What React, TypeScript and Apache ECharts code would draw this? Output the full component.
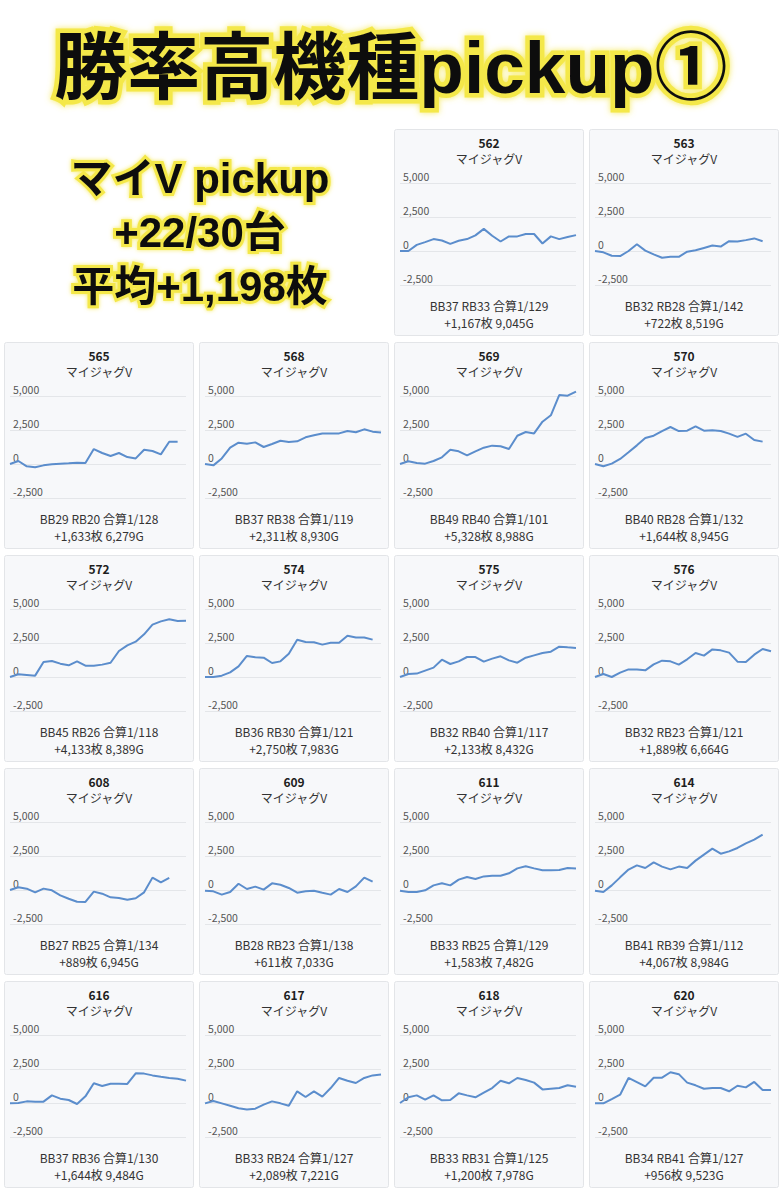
import React, { useEffect, useRef } from "react";
import * as echarts from "echarts";

const days = ["1", "2", "3", "4", "5", "6", "7", "8", "9", "10", "11", "12", "13", "14", "15", "16", "17", "18", "19", "20", "21", "22"];
const machineName = "マイジャグV";
const headerTitle = "勝率高機種pickup①";
const summaryLines = ["マイV pickup", "+22/30台", "平均+1,198枚"];

const unitIds = ["562", "563", "565", "568", "569", "570", "572", "574", "575", "576", "608", "609", "611", "614", "616", "617", "618", "620"];

const statLines = [
  "BB37 RB33 合算1/129", "BB32 RB28 合算1/142",
  "BB29 RB20 合算1/128", "BB37 RB38 合算1/119", "BB49 RB40 合算1/101", "BB40 RB28 合算1/132",
  "BB45 RB26 合算1/118", "BB36 RB30 合算1/121", "BB32 RB40 合算1/117", "BB32 RB23 合算1/121",
  "BB27 RB25 合算1/134", "BB28 RB23 合算1/138", "BB33 RB25 合算1/129", "BB41 RB39 合算1/112",
  "BB37 RB36 合算1/130", "BB33 RB24 合算1/127", "BB33 RB31 合算1/125", "BB34 RB41 合算1/127",
];

const resultLines = [
  "+1,167枚 9,045G", "+722枚 8,519G",
  "+1,633枚 6,279G", "+2,311枚 8,930G", "+5,328枚 8,988G", "+1,644枚 8,945G",
  "+4,133枚 8,389G", "+2,750枚 7,983G", "+2,133枚 8,432G", "+1,889枚 6,664G",
  "+889枚 6,945G", "+611枚 7,033G", "+1,583枚 7,482G", "+4,067枚 8,984G",
  "+1,644枚 9,484G", "+2,089枚 7,221G", "+1,200枚 7,978G", "+956枚 9,523G",
];

const d562 = [0, 0, 450, 650, 875, 775, 525, 750, 875, 1150, 1625, 1125, 700, 1075, 1075, 1250, 1250, 550, 1075, 875, 1025, 1167];
const d563 = [0, -100, -350, -375, 0, 500, 25, -250, -500, -425, -425, -50, 50, 225, 400, 325, 725, 700, 800, 925, 722];
const d565 = [0, 220, -170, -245, -100, -25, 25, 50, 100, 75, 1100, 810, 590, 810, 510, 410, 1050, 955, 710, 1633, 1633];
const d568 = [0, -100, 410, 1200, 1570, 1490, 1590, 1250, 1470, 1710, 1620, 1670, 1960, 2110, 2250, 2250, 2250, 2430, 2330, 2550, 2380, 2311];
const d569 = [0, 200, 75, 25, 220, 490, 1050, 930, 640, 930, 1200, 1350, 1300, 1100, 2080, 2350, 2250, 3110, 3580, 5070, 5020, 5328];
const d570 = [0, -170, 25, 370, 860, 1370, 1910, 2080, 2420, 2720, 2420, 2450, 2770, 2450, 2480, 2430, 2230, 1990, 2230, 1760, 1644];
const d572 = [0, 200, 150, 100, 1100, 1180, 980, 860, 1150, 830, 830, 910, 1050, 1910, 2330, 2600, 3140, 3850, 4090, 4240, 4120, 4133];
const d574 = [0, 0, 100, 340, 780, 1550, 1450, 1420, 1030, 1150, 1710, 2740, 2570, 2550, 2380, 2520, 2520, 3040, 2910, 2910, 2750];
const d575 = [0, 220, 250, 470, 690, 1270, 955, 1150, 1470, 1470, 1130, 1350, 1520, 1225, 1050, 1420, 1590, 1760, 1860, 2230, 2180, 2133];
const d576 = [0, 220, 0, 320, 560, 560, 490, 930, 1200, 1150, 910, 1300, 1760, 1570, 2030, 1960, 1790, 1130, 1100, 1640, 2060, 1889];
const d608 = [0, 200, 100, -170, 100, -25, -390, -640, -860, -880, -120, -270, -540, -590, -710, -610, -170, 910, 560, 889];
const d609 = [-50, -100, -340, -150, 460, 75, 250, 25, 490, 390, 150, -200, -100, -50, -200, -340, 75, -150, 270, 910, 611];
const d611 = [-50, -150, -150, -25, 340, 490, 340, 760, 960, 810, 1000, 1050, 1050, 1230, 1590, 1740, 1590, 1450, 1450, 1470, 1620, 1583];
const d614 = [-50, -150, 340, 930, 1500, 1810, 1620, 2030, 1720, 1520, 1720, 1620, 2160, 2600, 3040, 2670, 2840, 3090, 3430, 3700, 4067];
const d616 = [-25, 0, 120, 100, 100, 560, 320, 220, -75, 490, 1450, 1250, 1420, 1420, 1400, 2180, 2160, 2030, 1930, 1840, 1790, 1644];
const d617 = [-25, 150, -25, -200, -390, -470, -420, -120, 120, -25, -200, 860, 440, 860, 470, 1100, 1840, 1640, 1470, 1840, 2030, 2089];
const d618 = [0, 420, 560, 245, 560, 200, 220, 710, 560, 420, 760, 1100, 1640, 1450, 1840, 1690, 1500, 1000, 1050, 1100, 1300, 1200];
const d620 = [-25, -25, 290, 610, 1840, 1530, 1220, 1860, 1860, 2260, 2120, 1500, 1300, 1050, 1100, 1100, 860, 1270, 1150, 1550, 960, 956];

const seriesData = [d562, d563, d565, d568, d569, d570, d572, d574, d575, d576, d608, d609, d611, d614, d616, d617, d618, d620];

const yMin = -2500;
const yMax = 5000;
const yStep = 2500;

const FONT = '"Noto Sans CJK JP", "Noto Sans", sans-serif';
const BIG_FONT = '"Liberation Sans", "Noto Sans CJK JP", sans-serif';
const COL_X = [4.5, 199.5, 394.5, 589.5];
const ROW_Y = [129.5, 342.5, 555.5, 768.5, 981.5];
const PW = 189;
const PH = 206;

function slotOf(i: number) {
  if (i < 2) return { col: i + 2, row: 0 };
  const k = i - 2;
  return { col: k % 4, row: 1 + Math.floor(k / 4) };
}

export default function App() {
  const ref = useRef<HTMLDivElement>(null);

  useEffect(() => {
    if (!ref.current) return;
    const chart = echarts.init(ref.current, undefined, { renderer: "svg" });

    const grids: any[] = [];
    const xAxes: any[] = [];
    const yAxes: any[] = [];
    const series: any[] = [];
    const graphics: any[] = [];

    unitIds.forEach((id, i) => {
      const { col, row } = slotOf(i);
      const x = COL_X[col];
      const y = ROW_Y[row];
      graphics.push({
        type: "rect",
        silent: true,
        z: -10,
        shape: { x, y, width: PW, height: PH, r: 2 },
        style: { fill: "#f7f8fa", stroke: "#e3e5e8", lineWidth: 1 },
      });
      graphics.push({
        type: "text",
        silent: true,
        style: { text: id, x: x + PW / 2, y: y + 12.5, align: "center", verticalAlign: "middle", font: `bold 12px ${FONT}`, fill: "#1e1e1e" },
      });
      graphics.push({
        type: "text",
        silent: true,
        style: { text: machineName, x: x + PW / 2, y: y + 28.5, align: "center", verticalAlign: "middle", font: `12px ${FONT}`, fill: "#333" },
      });
      graphics.push({
        type: "text",
        silent: true,
        style: { text: statLines[i], x: x + PW / 2, y: y + 175.5, align: "center", verticalAlign: "middle", font: `12px ${FONT}`, fill: "#333" },
      });
      graphics.push({
        type: "text",
        silent: true,
        style: { text: resultLines[i], x: x + PW / 2, y: y + 192.5, align: "center", verticalAlign: "middle", font: `12px ${FONT}`, fill: "#333" },
      });

      grids.push({ left: x + 5.5, top: y + 53.5, width: 176, height: 102, containLabel: false });
      xAxes.push({ type: "category", gridIndex: i, data: days, boundaryGap: false, show: false });
      yAxes.push({
        type: "value",
        gridIndex: i,
        min: yMin,
        max: yMax,
        interval: yStep,
        axisLine: { show: false },
        axisTick: { show: false },
        splitLine: { show: true, lineStyle: { color: "#e4e6e9", width: 1 } },
        axisLabel: {
          inside: true,
          verticalAlign: "bottom",
          margin: 3,
          fontSize: 10.5,
          color: "#555",
          fontFamily: FONT,
          padding: [0, 0, 1, 0],
          formatter: (v: number) => v.toLocaleString("en-US"),
        },
      });
      series.push({
        type: "line",
        xAxisIndex: i,
        yAxisIndex: i,
        data: seriesData[i],
        showSymbol: false,
        symbol: "none",
        clip: false,
        lineStyle: { color: "#5b8dcc", width: 2 },
        itemStyle: { color: "#5b8dcc" },
      });
    });

    graphics.push({
      type: "text",
      silent: true,
      style: {
        text: headerTitle,
        x: 391,
        y: 67,
        align: "center",
        verticalAlign: "middle",
        font: `bold 73px ${BIG_FONT}`,
        fill: "#111",
        stroke: "#f4e84a",
        lineWidth: 9,
        textShadowColor: "rgba(245,232,80,0.9)",
        textShadowBlur: 6,
      },
    });
    const summaryY = [178, 232, 286];
    summaryLines.forEach((t, k) => {
      graphics.push({
        type: "text",
        silent: true,
        style: {
          text: t,
          x: 200,
          y: summaryY[k],
          align: "center",
          verticalAlign: "middle",
          font: `bold 42px ${BIG_FONT}`,
          fill: "#111",
          stroke: "#f4e84a",
          lineWidth: 6,
          textShadowColor: "rgba(245,232,80,0.9)",
          textShadowBlur: 4,
        },
      });
    });

    chart.setOption({
      animation: false,
      backgroundColor: "#ffffff",
      grid: grids,
      xAxis: xAxes,
      yAxis: yAxes,
      series,
      graphic: graphics,
    });

    return () => chart.dispose();
  }, []);

  return (
    <div
      ref={ref}
      style={{ position: "absolute", left: 0, top: 0, width: 784, height: 1200, background: "#fff" }}
    />
  );
}
